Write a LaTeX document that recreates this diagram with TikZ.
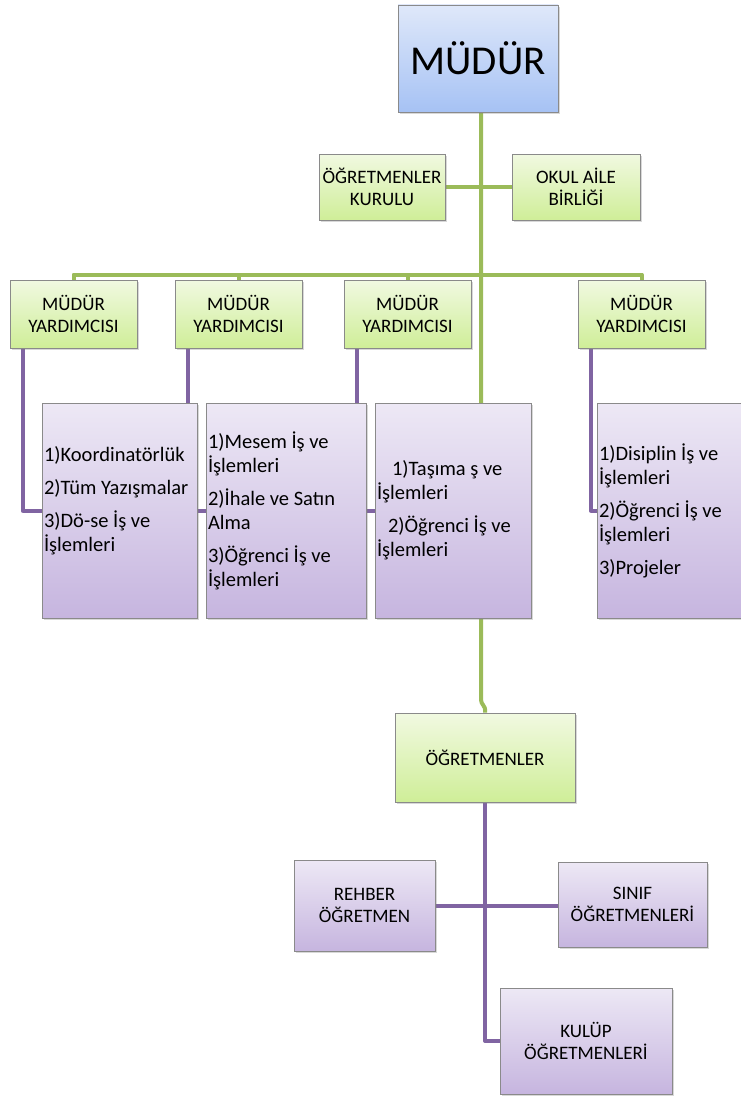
\documentclass[tikz,border=0pt]{standalone}
\usepackage{fontspec}
\setmainfont{Carlito}
\usetikzlibrary{shadows,calc}
\pgfdeclarelayer{bottom}
\pgfdeclarelayer{background}
\pgfsetlayers{bottom,background,main}
\definecolor{glinec}{HTML}{9BBB59}
\definecolor{plinec}{HTML}{8064A2}
\definecolor{boxborder}{HTML}{8A8A8A}
\definecolor{greenTop}{HTML}{F1F9E1}
\definecolor{greenBot}{HTML}{CFEE98}
\definecolor{purpTop}{HTML}{EDE8F5}
\definecolor{purpBot}{HTML}{C6B5DF}
\definecolor{blueTop}{HTML}{DFE8FA}
\definecolor{blueBot}{HTML}{A6C2F4}
\begin{document}
\begin{tikzpicture}[x=1pt,y=-1pt,
  box/.style={draw=boxborder, line width=0.8pt, inner sep=2pt,
    drop shadow={shadow xshift=1.5pt, shadow yshift=-2pt, opacity=0.3}},
  gbox/.style={box, top color=greenTop, bottom color=greenBot, align=center,
    font=\fontsize{19}{22}\selectfont},
  lbox/.style={box, top color=purpTop, bottom color=purpBot, align=center,
    font=\fontsize{19}{22}\selectfont},
  tbox/.style={box, top color=purpTop, bottom color=purpBot, align=flush left,
    inner xsep=2pt, font=\fontsize{20.5}{24}\selectfont},
  gline/.style={draw=glinec, line width=4pt, line join=round},
  pline/.style={draw=plinec, line width=4pt, line join=round},
]
\useasboundingbox (0,0) rectangle (741,1097);
\begin{pgfonlayer}{bottom}
\fill[white] (0,0) rectangle (741,1097);
\end{pgfonlayer}

% top
\node[box, top color=blueTop, bottom color=blueBot, minimum width=160, minimum height=107,
  font=\fontsize{41}{44}\selectfont] (mudur) at (478,58.5) {MÜDÜR};
\node[gbox, minimum width=126, minimum height=66] (kurulu) at (382,187) {ÖĞRETMENLER\\KURULU};
\node[gbox, minimum width=128, minimum height=66] (okul) at (576,187) {OKUL AİLE\\BİRLİĞİ};

% assistants
\node[gbox, minimum width=127, minimum height=68] (my1) at (73.5,314) {MÜDÜR\\YARDIMCISI};
\node[gbox, minimum width=127, minimum height=68] (my2) at (238.5,314) {MÜDÜR\\YARDIMCISI};
\node[gbox, minimum width=127, minimum height=68] (my3) at (407.5,314) {MÜDÜR\\YARDIMCISI};
\node[gbox, minimum width=127, minimum height=68] (my4) at (641.5,314) {MÜDÜR\\YARDIMCISI};

% task boxes
\node[tbox, minimum width=155, text width=151, minimum height=215] (pa) at (119.5,510.5)
  {1)Koordinatörlük\\[9pt]2)Tüm Yazışmalar\\[9pt]3)Dö-se İş ve\\İşlemleri\\~};
\node[tbox, minimum width=160, text width=156, minimum height=215] (pb) at (286,510.5)
  {1)Mesem İş ve\\İşlemleri\\[9pt]2)İhale ve Satın\\Alma\\[9pt]3)Öğrenci İş ve\\İşlemleri};
\node[tbox, minimum width=156, text width=152, minimum height=215] (pc) at (453,510.5)
  {\hspace*{15pt}1)Taşıma ş ve\\İşlemleri\\[9pt]\hspace*{11pt}2)Öğrenci İş ve\\İşlemleri};
\node[tbox, minimum width=152, text width=148, minimum height=215] (pd) at (673,510.5)
  {1)Disiplin İş ve\\İşlemleri\\[9pt]2)Öğrenci İş ve\\İşlemleri\\[9pt]3)Projeler};

% teachers
\node[gbox, minimum width=180, minimum height=89] (ogr) at (485,757.5) {ÖĞRETMENLER};
\node[lbox, minimum width=141, minimum height=91] (rehber) at (364.5,905.5) {REHBER\\ÖĞRETMEN};
\node[lbox, minimum width=149, minimum height=85] (sinif) at (632.5,904.5) {SINIF\\ÖĞRETMENLERİ};
\node[lbox, minimum width=172, minimum height=106] (kulup) at (586,1041) {KULÜP\\ÖĞRETMENLERİ};

\coordinate (trunk) at (481,698);
\coordinate (bus) at (481,274.5);

\begin{pgfonlayer}{background}
  \draw[gline] (mudur.south -| trunk) -- (trunk) .. controls (481,707) and (486,704) .. (ogr.north);
  \draw[gline] (kurulu.east) -- (okul.west);
  \draw[gline] (my1.north) -- (my1.north |- bus) -- (my4.north |- bus) -- (my4.north);
  \draw[gline] (my2.north) -- (my2.north |- bus);
  \draw[gline] (my3.north) -- (my3.north |- bus);
  \draw[pline] ([xshift=13pt]my1.south west) |- (pa.west);
  \draw[pline] ([xshift=13pt]my2.south west) |- (pb.west);
  \draw[pline] ([xshift=13pt]my3.south west) |- (pc.west);
  \draw[pline] ([xshift=13pt]my4.south west) |- (pd.west);
  \draw[pline] (ogr.south) |- (kulup.west);
  \draw[pline] (rehber.east) -- (rehber.east -| sinif.west);
\end{pgfonlayer}
\end{tikzpicture}
\end{document}
